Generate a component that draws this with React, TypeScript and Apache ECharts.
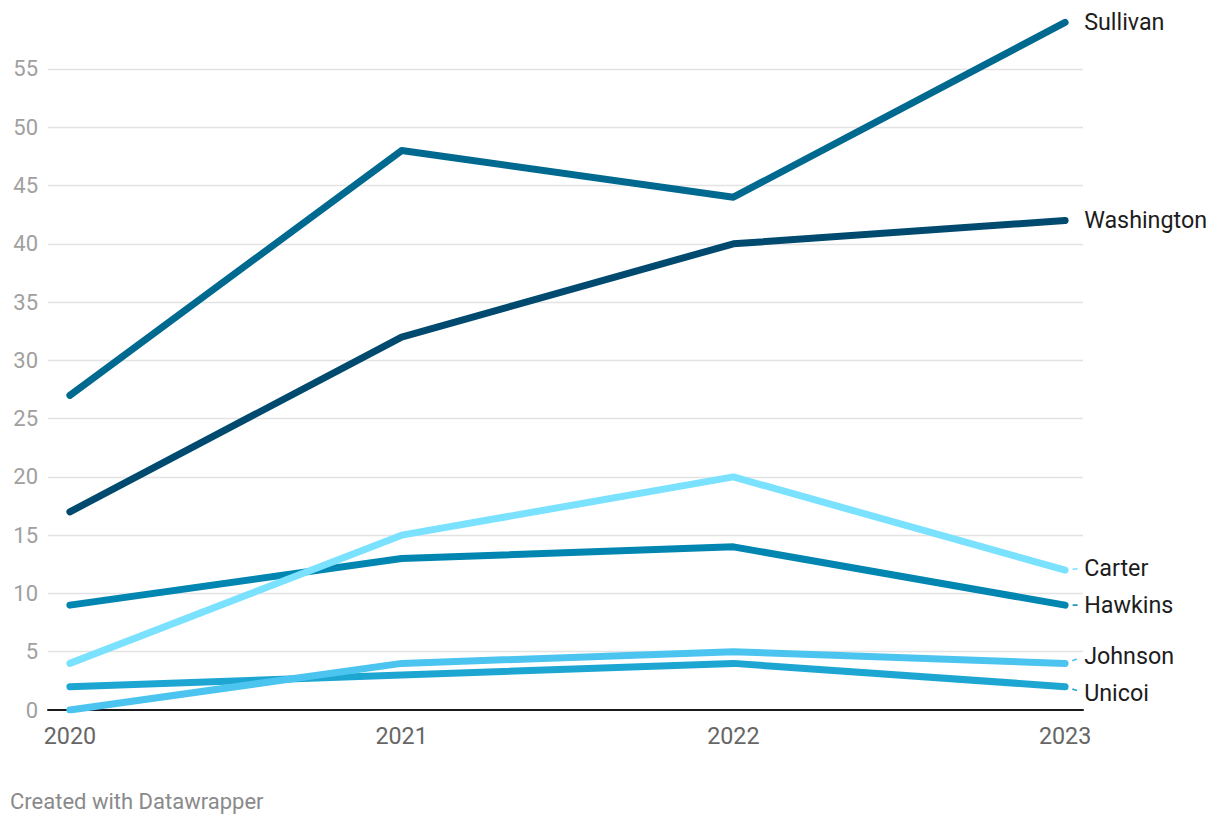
import React, { useEffect, useRef } from "react";
import * as echarts from "echarts";

const years = [2020, 2021, 2022, 2023];
const seriesNames = ["Sullivan", "Washington", "Carter", "Hawkins", "Johnson", "Unicoi"];
const sullivan = [27, 48, 44, 59];
const washington = [17, 32, 40, 42];
const carter = [4, 15, 20, 12];
const hawkins = [9, 13, 14, 9];
const johnson = [0, 4, 5, 4];
const unicoi = [2, 3, 4, 2];
const gridValues = [5, 10, 15, 20, 25, 30, 35, 40, 45, 50, 55];

const colors = ["#00698f", "#004a6f", "#7ae1ff", "#0086b0", "#4cc4f0", "#1ea6d3"];
const labelShift = [0, 0, -2, 0, -7, 6];
const hasGuide = [false, false, true, true, true, true];

export default function App() {
  const ref = useRef<HTMLDivElement>(null);
  useEffect(() => {
    document.body.style.margin = "0";
    const chart = echarts.init(ref.current!, undefined, { renderer: "svg" });
    const all = [sullivan, washington, carter, hawkins, johnson, unicoi];
    const font = "Roboto, 'Noto Sans', sans-serif";
    const series: any[] = all.map((vals, si) => ({
      name: seriesNames[si],
      type: "line",
      z: 10 - si,
      symbol: "circle",
      symbolSize: 0.1,
      showSymbol: true,
      itemStyle: { color: colors[si] },
      lineStyle: { width: 7, color: colors[si], cap: "round", join: "round" },
      data: vals.map((v, i) => ({
        value: [years[i], v],
        label:
          i === vals.length - 1
            ? {
                show: true,
                position: "right",
                distance: 19,
                formatter: seriesNames[si],
                color: "#1d1d1d",
                fontSize: 23.3,
                fontFamily: font,
              }
            : { show: false },
        labelLine:
          i === vals.length - 1 && hasGuide[si]
            ? {
                show: true,
                lineStyle: { color: colors[si], width: 1.5, type: [0, 7.5, 5, 200], cap: "butt" },
              }
            : { show: false },
      })),
      labelLayout: (p: any) =>
        p.dataIndex === vals.length - 1 ? { dy: labelShift[si] } : {},
    }));
    series.push({
      type: "line",
      data: [],
      silent: true,
      markLine: {
        silent: true,
        symbol: "none",
        label: { show: false },
        lineStyle: { color: "#e3e3e3", width: 1.3, type: "solid" },
        data: gridValues.map((g) => ({ yAxis: g })),
      },
      z: 0,
    });
    chart.setOption({
      animation: false,
      grid: { left: 48, right: 137, top: 10.7, bottom: 116, containLabel: false },
      xAxis: {
        type: "value",
        min: 2019.934,
        max: 2023.054,
        axisLine: { show: true, onZero: true, lineStyle: { color: "#1a1a1a", width: 2 } },
        axisTick: { show: false },
        splitLine: { show: false },
        axisLabel: {
          customValues: years,
          color: "#666666",
          fontSize: 23.3,
          fontFamily: font,
          margin: 14,
          formatter: (v: number) => String(v),
        },
      },
      yAxis: {
        type: "value",
        min: 0,
        max: 60,
        interval: 5,
        axisLine: { show: false },
        axisTick: { show: false },
        splitLine: { show: false },
        axisLabel: {
          color: "#a0a0a0",
          fontSize: 22,
          fontFamily: font,
          margin: 10,
          formatter: (v: number) => (v === 60 ? "" : String(v)),
        },
      },
      graphic: [
        {
          type: "text",
          left: 10,
          top: 790,
          style: { text: "Created with Datawrapper", fill: "#8a8a8a", fontSize: 22, fontFamily: font },
        },
      ],
      series,
    });
    return () => chart.dispose();
  }, []);
  return <div ref={ref} style={{ width: 1220, height: 826 }} />;
}
